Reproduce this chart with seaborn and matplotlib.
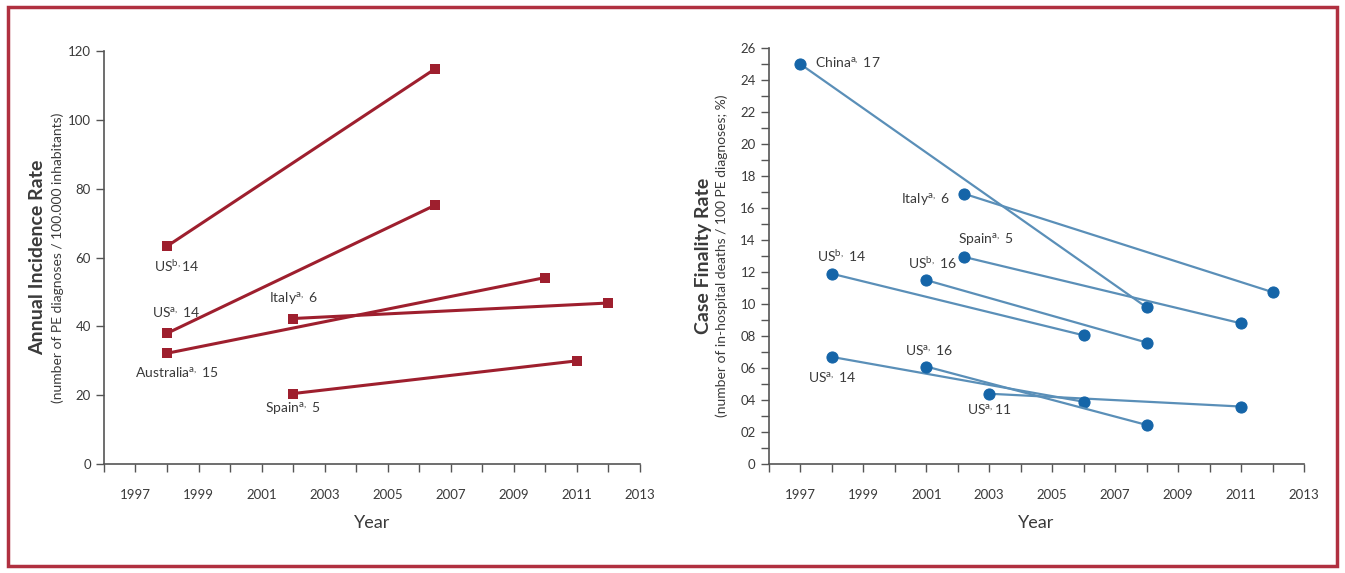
import pandas as pd
import matplotlib.pyplot as plt
import seaborn as sns
from matplotlib.patches import Rectangle
from matplotlib.ticker import MultipleLocator

# Annual incidence rate (left panel)
inc_study = ['USb14', 'USa14', 'Australia', 'Italy', 'Spain']
inc_start_year = [1998, 1998, 1998, 2002, 2002]
inc_end_year = [2006.5, 2006.5, 2010, 2012, 2011]
inc_start_val = [63.3, 38.0, 32.2, 42.3, 20.5]
inc_end_val = [114.8, 75.2, 54.2, 46.8, 30.0]
inc_labels = [r'US$^{\mathrm{b,}}$14', r'US$^{\mathrm{a,}}$ 14', r'Australia$^{\mathrm{a,}}$ 15',
              r'Italy$^{\mathrm{a,}}$ 6', r'Spain$^{\mathrm{a,}}$ 5']
inc_label_x = [1998.3, 1998.3, 1998.3, 2002.0, 2002.0]
inc_label_y = [57.5, 44.0, 26.7, 48.0, 16.0]

# Case fatality rate (right panel)
cfr_study = ['China', 'Italy', 'Spain', 'USb14', 'USb16', 'USa14', 'USa16', 'USa11']
cfr_start_year = [1997, 2002.2, 2002.2, 1998, 2001, 1998, 2001, 2003]
cfr_end_year = [2008, 2012, 2011, 2006, 2008, 2006, 2008, 2011]
cfr_start_val = [25.0, 16.9, 12.95, 11.9, 11.5, 6.7, 6.1, 4.4]
cfr_end_val = [9.8, 10.75, 8.8, 8.05, 7.6, 3.9, 2.45, 3.6]
cfr_labels = [r'China$^{\mathrm{a,}}$ 17', r'Italy$^{\mathrm{a,}}$ 6', r'Spain$^{\mathrm{a,}}$ 5',
              r'US$^{\mathrm{b,}}$ 14', r'US$^{\mathrm{b,}}$ 16', r'US$^{\mathrm{a,}}$ 14',
              r'US$^{\mathrm{a,}}$ 16', r'US$^{\mathrm{a,}}$11']
cfr_label_x = [1997.45, 2001.75, 2002.9, 1998.3, 2001.2, 1998.0, 2001.1, 2003.0]
cfr_label_y = [25.1, 16.5, 14.0, 13.0, 12.6, 5.4, 7.1, 3.4]
cfr_label_ha = ['left', 'right', 'center', 'center', 'center', 'center', 'center', 'center']

year_ticks = list(range(1997, 2014, 2))


def to_long(study, x0, x1, y0, y1):
    rows = []
    for s, a, b, c, d in zip(study, x0, x1, y0, y1):
        rows.append({'study': s, 'year': a, 'value': c})
        rows.append({'study': s, 'year': b, 'value': d})
    return pd.DataFrame(rows)


df_inc = to_long(inc_study, inc_start_year, inc_end_year, inc_start_val, inc_end_val)
df_cfr = to_long(cfr_study, cfr_start_year, cfr_end_year, cfr_start_val, cfr_end_val)

sns.set_style('ticks')
plt.rcParams['font.family'] = ['Lato', 'DejaVu Sans']
plt.rcParams['mathtext.fontset'] = 'custom'
plt.rcParams['mathtext.rm'] = 'Lato'
text_col = '#3a3a3a'

fig = plt.figure(figsize=(13.45, 5.73), dpi=100)
fig.patches.append(Rectangle((0.006, 0.012), 0.988, 0.976, transform=fig.transFigure,
                             fill=False, edgecolor='#b03040', linewidth=2.5))

ax1 = fig.add_axes([0.0773, 0.190, 0.3985, 0.721])
ax2 = fig.add_axes([0.5717, 0.190, 0.3978, 0.726])

# Left panel
sns.lineplot(data=df_inc, x='year', y='value', units='study', estimator=None,
             color='#9e1f2e', linewidth=2.2, marker='s', markersize=7,
             markeredgewidth=0, ax=ax1, legend=False)
for lab, x, y in zip(inc_labels, inc_label_x, inc_label_y):
    ax1.text(x, y, lab, ha='center', va='center', fontsize=10, color=text_col)
ax1.set_ylim(0, 120)
ax1.yaxis.set_major_locator(MultipleLocator(20))

# Right panel
sns.lineplot(data=df_cfr, x='year', y='value', units='study', estimator=None,
             color='#5a8fb8', linewidth=1.6, marker='o', markersize=8,
             markerfacecolor='#1565a8', markeredgecolor='#1565a8', ax=ax2, legend=False)
for lab, x, y, ha in zip(cfr_labels, cfr_label_x, cfr_label_y, cfr_label_ha):
    ax2.text(x, y, lab, ha=ha, va='center', fontsize=10, color=text_col)
ax2.set_ylim(0, 26)
ax2.set_yticks(range(0, 27, 2))
ax2.set_yticklabels(['0'] + [f'{v:02d}' for v in range(2, 27, 2)])
ax2.yaxis.set_minor_locator(MultipleLocator(1))

for ax in (ax1, ax2):
    ax.set_xlim(1996, 2013)
    ax.set_xticks(year_ticks)
    ax.xaxis.set_minor_locator(MultipleLocator(1))
    ax.tick_params(axis='both', which='major', direction='out', length=6, width=1,
                   labelsize=9.5, colors='#555555', labelcolor=text_col)
    ax.tick_params(axis='both', which='minor', direction='out', length=6, width=1,
                   colors='#555555')
    ax.tick_params(axis='x', pad=12)
    for side in ['left', 'bottom']:
        ax.spines[side].set_color('#555555')
        ax.spines[side].set_linewidth(1.2)
    sns.despine(ax=ax)
    ax.set_xlabel('Year', fontsize=13, color=text_col, labelpad=10)
    ax.set_ylabel('')

ax1.text(-0.123, 0.5, 'Annual Incidence Rate', transform=ax1.transAxes, rotation=90,
         ha='center', va='center', fontsize=14, fontweight='bold', color=text_col)
ax1.text(-0.087, 0.5, '(number of PE diagnoses / 100.000 inhabitants)', transform=ax1.transAxes,
         rotation=90, ha='center', va='center', fontsize=10, color=text_col)
ax2.text(-0.123, 0.5, 'Case Finality Rate', transform=ax2.transAxes, rotation=90,
         ha='center', va='center', fontsize=14, fontweight='bold', color=text_col)
ax2.text(-0.088, 0.5, '(number of in-hospital deaths / 100 PE diagnoses; %)', transform=ax2.transAxes,
         rotation=90, ha='center', va='center', fontsize=10, color=text_col)

fig.savefig('out.png', dpi=100)
